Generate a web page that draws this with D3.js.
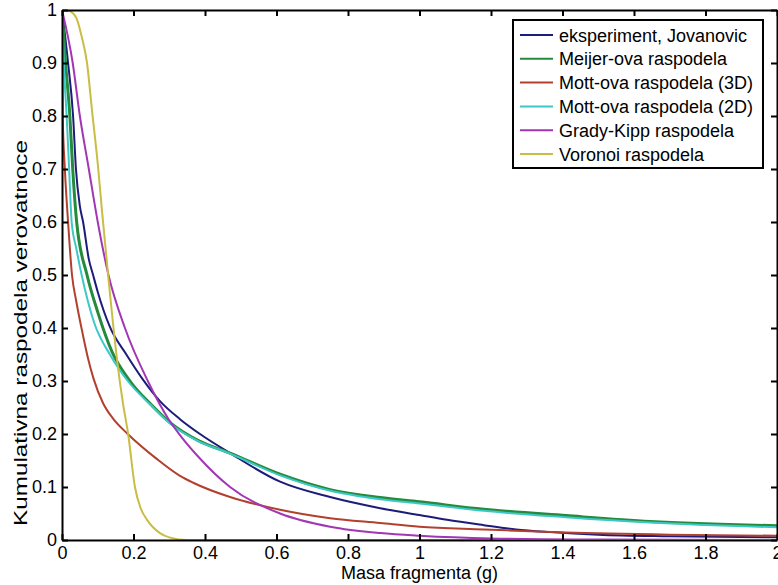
<!DOCTYPE html>
<html>
<head>
<meta charset="utf-8">
<script src="https://cdn.jsdelivr.net/npm/d3@7"></script>
<style>
  body { margin: 0; background: #fff; }
  text { font-family: "Liberation Sans", Arial, sans-serif; fill: #000; }
</style>
</head>
<body>
<svg id="chart" width="778" height="585"></svg>
<script>
// series, [mass, probability]
const seriesNames = ["eksperiment, Jovanovic", "Meijer-ova raspodela", "Mott-ova raspodela (3D)",
                     "Mott-ova raspodela (2D)", "Grady-Kipp raspodela", "Voronoi raspodela"];
const seriesColors = ["#1c1c7a", "#268a3c", "#b3402e", "#3cc8c8", "#a236b4", "#c9bd45"];

const experiment = [[0,1],[0.017,0.9],[0.031,0.8],[0.039,0.7],[0.05,0.63],[0.059,0.6],[0.075,0.53],
  [0.087,0.5],[0.1,0.468],[0.134,0.402],[0.18,0.35],[0.224,0.305],[0.274,0.262],[0.33,0.228],
  [0.386,0.2],[0.47,0.164],[0.61,0.11],[0.75,0.081],[0.89,0.06],[1.0,0.047],[1.077,0.038],
  [1.18,0.028],[1.27,0.02],[1.365,0.015],[1.5,0.01],[1.7,0.007],[2,0.005]];
const meijer = [[0,1],[0.01,0.9],[0.022,0.8],[0.03,0.7],[0.041,0.6],[0.07,0.5],[0.1,0.43],
  [0.14,0.355],[0.19,0.3],[0.25,0.255],[0.305,0.22],[0.38,0.188],[0.47,0.164],[0.61,0.124],
  [0.75,0.095],[0.89,0.08],[1.0,0.072],[1.18,0.058],[1.41,0.046],[1.645,0.035],[2,0.027]];
const mott3d = [[0,1],[0.002,0.8],[0.008,0.7],[0.017,0.6],[0.028,0.5],[0.04,0.45],[0.056,0.395],
  [0.072,0.345],[0.088,0.305],[0.115,0.258],[0.144,0.228],[0.184,0.2],[0.265,0.153],[0.33,0.121],
  [0.367,0.108],[0.47,0.081],[0.61,0.057],[0.75,0.041],[0.89,0.032],[1.0,0.025],[1.18,0.02],
  [1.41,0.014],[1.7,0.01],[2,0.008]];
const mott2d = [[0,1],[0.005,0.9],[0.013,0.8],[0.02,0.7],[0.027,0.6],[0.04,0.55],[0.055,0.5],
  [0.09,0.41],[0.134,0.35],[0.184,0.3],[0.246,0.256],[0.302,0.22],[0.377,0.188],[0.47,0.163],
  [0.61,0.122],[0.75,0.093],[0.89,0.077],[1.0,0.069],[1.18,0.055],[1.41,0.043],[1.645,0.033],[2,0.024]];
const gradyKipp = [[0,1],[0.03,0.9],[0.05,0.8],[0.075,0.7],[0.1,0.6],[0.13,0.5],[0.176,0.4],
  [0.24,0.3],[0.3,0.226],[0.33,0.198],[0.38,0.158],[0.47,0.1],[0.61,0.05],[0.75,0.025],[0.89,0.013],
  [1.0,0.008],[1.2,0.003],[1.5,0.001],[2,0]];
const voronoi = [[0,1],[0.02,0.998],[0.04,0.985],[0.055,0.95],[0.07,0.9],[0.084,0.81],[0.1,0.71],
  [0.112,0.62],[0.129,0.5],[0.154,0.34],[0.17,0.26],[0.185,0.2],[0.204,0.1],[0.22,0.06],
  [0.238,0.038],[0.274,0.013],[0.3,0.005],[0.35,0],[2,0]];

const xTicks = [0,0.2,0.4,0.6,0.8,1,1.2,1.4,1.6,1.8,2];
const yTicks = [0,0.1,0.2,0.3,0.4,0.5,0.6,0.7,0.8,0.9,1];

const allSeries = [experiment, meijer, mott3d, mott2d, gradyKipp, voronoi];

const svg = d3.select("#chart");
const mLeft = 62, mRight = 777, mTop = 10, mBottom = 540;

const x = d3.scaleLinear().domain([0, 2]).range([mLeft, mRight]);
const y = d3.scaleLinear().domain([0, 1]).range([mBottom, mTop]);

// curves (clipped to plot box)
svg.append("clipPath").attr("id", "clip")
  .append("rect").attr("x", mLeft).attr("y", mTop).attr("width", mRight - mLeft).attr("height", mBottom - mTop);

const line = d3.line().x(d => x(d[0])).y(d => y(d[1])).curve(d3.curveMonotoneX);

svg.append("g").attr("clip-path", "url(#clip)")
  .selectAll("path").data(allSeries).enter().append("path")
  .attr("d", line)
  .attr("fill", "none")
  .attr("stroke", (d, i) => seriesColors[i])
  .attr("stroke-width", (d, i) => i === 1 ? 3 : 2);

// axes, ticks on all four sides pointing inward
const fmt = d => String(d);
svg.append("g").attr("transform", `translate(0,${mBottom})`)
  .call(d3.axisBottom(x).tickValues(xTicks).tickFormat(fmt).tickSizeInner(-6).tickSizeOuter(0).tickPadding(6));
svg.append("g").attr("transform", `translate(0,${mTop})`)
  .call(d3.axisTop(x).tickValues(xTicks).tickFormat("").tickSizeInner(-6).tickSizeOuter(0));
svg.append("g").attr("transform", `translate(${mLeft},0)`)
  .call(d3.axisLeft(y).tickValues(yTicks).tickFormat(fmt).tickSizeInner(-6).tickSizeOuter(0).tickPadding(5));
svg.append("g").attr("transform", `translate(${mRight},0)`)
  .call(d3.axisRight(y).tickValues(yTicks).tickFormat("").tickSizeInner(-6).tickSizeOuter(0));

svg.selectAll(".domain").attr("stroke", "#000").attr("stroke-width", 2);
svg.selectAll(".tick line").attr("stroke", "#000").attr("stroke-width", 2);
svg.selectAll(".tick text").attr("font-size", 18).style("font-family", "Liberation Sans, Arial, sans-serif");

// axis titles
svg.append("text").attr("x", (mLeft + mRight) / 2).attr("y", 579)
  .attr("text-anchor", "middle").attr("font-size", 18).text("Masa fragmenta (g)");
svg.append("text").attr("transform", "translate(27,333) rotate(-90)")
  .attr("text-anchor", "middle").attr("font-size", 19)
  .attr("textLength", 386).attr("lengthAdjust", "spacingAndGlyphs")
  .text("Kumulativna raspodela verovatnoce");

// legend
const lg = svg.append("g");
lg.append("rect").attr("x", 513).attr("y", 20).attr("width", 250).attr("height", 148)
  .attr("fill", "#fff").attr("stroke", "#000").attr("stroke-width", 2);
seriesNames.forEach((name, i) => {
  const ly = 35 + i * 23.8;
  lg.append("line").attr("x1", 520).attr("x2", 553).attr("y1", ly).attr("y2", ly)
    .attr("stroke", seriesColors[i]).attr("stroke-width", 2);
  lg.append("text").attr("x", 559).attr("y", ly + 6.5).attr("font-size", 18).text(name);
});
</script>
</body>
</html>
